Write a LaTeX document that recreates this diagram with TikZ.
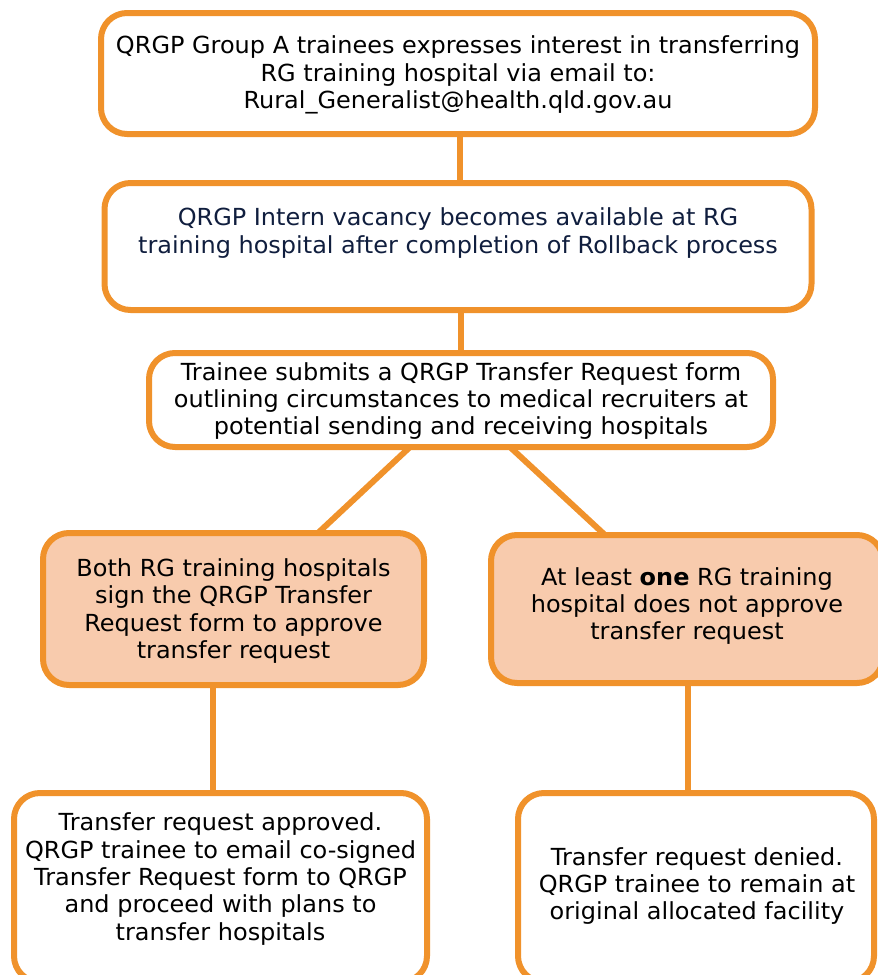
\documentclass[tikz,border=0pt]{standalone}
\usepackage{fontspec}
\setmainfont[FakeStretch=1.02]{DejaVu Sans}
\definecolor{orng}{RGB}{240,146,43}
\definecolor{peach}{RGB}{248,203,173}
\definecolor{navy}{RGB}{16,30,62}
\tikzset{
  box/.style={draw=orng, line width=6pt, rounded corners=26pt, inner sep=0pt},
  wbox/.style={box, fill=white},
  pbox/.style={box, fill=peach},
  txt/.style={align=center, inner sep=0pt, font=\fontsize{23.5}{27.4}\selectfont},
  link/.style={draw=orng, line width=6pt}
}
\begin{document}
\begin{tikzpicture}[x=1pt,y=-1pt]
\useasboundingbox (0,0) rectangle (878,975);
\clip (0,0) rectangle (878,975);
\node[wbox, minimum width=714pt, minimum height=121pt] (b1) at (458,73.5) {};
\node[wbox, minimum width=707pt, minimum height=127pt] (b2) at (458,246.5) {};
\node[wbox, minimum width=624pt, minimum height=94pt] (b3) at (461,400) {};
\node[pbox, minimum width=381pt, minimum height=152pt] (b4) at (233.5,609) {};
\node[pbox, minimum width=392pt, minimum height=148pt] (b5) at (687,609) {};
\node[wbox, minimum width=413pt, minimum height=189pt] (b6) at (220.5,887.5) {};
\node[wbox, minimum width=356pt, minimum height=189pt] (b7) at (696,887.5) {};
\draw[link] ([xshift=2pt]b1.south) -- ([xshift=2pt]b2.north);
\draw[link] ([xshift=3pt]b2.south) -- (b3.north);
\draw[link] ([xshift=-51pt,yshift=3pt]b3.south) -- ([xshift=84.5pt,yshift=-3pt]b4.north);
\draw[link] ([xshift=49pt,yshift=3pt]b3.south) -- ([xshift=-82pt,yshift=-3pt]b5.north);
\draw[link] ([xshift=-20.5pt,yshift=3pt]b4.south) -- ([xshift=-20.5pt,yshift=-3pt]b4.south |- b6.north);
\draw[link] ([xshift=1pt,yshift=3pt]b5.south) -- ([xshift=1pt,yshift=-3pt]b5.south |- b7.north);
\node[txt] (t1) at (458,75) {QRGP Group A trainees expresses interest in transferring\\RG training hospital via email to:\\Rural\_Generalist@health.qld.gov.au};
\node[txt, text=navy] (t2) at (458,233) {QRGP Intern vacancy becomes available at RG\\training hospital after completion of Rollback process};
\node[txt] (t3) at (461,401) {Trainee submits a QRGP Transfer Request form\\outlining circumstances to medical recruiters at\\potential sending and receiving hospitals};
\node[txt] (t4) at (233.5,611) {Both RG training hospitals\\sign the QRGP Transfer\\Request form to approve\\transfer request};
\node[txt] (t5) at (687,606) {At least \textbf{one} RG training\\hospital does not approve\\transfer request};
\node[txt] (t6) at (220.5,879) {Transfer request approved.\\QRGP trainee to email co-signed\\Transfer Request form to QRGP\\and proceed with plans to\\transfer hospitals};
\node[txt] (t7) at (697,886) {Transfer request denied.\\QRGP trainee to remain at\\original allocated facility};
\end{tikzpicture}
\end{document}
